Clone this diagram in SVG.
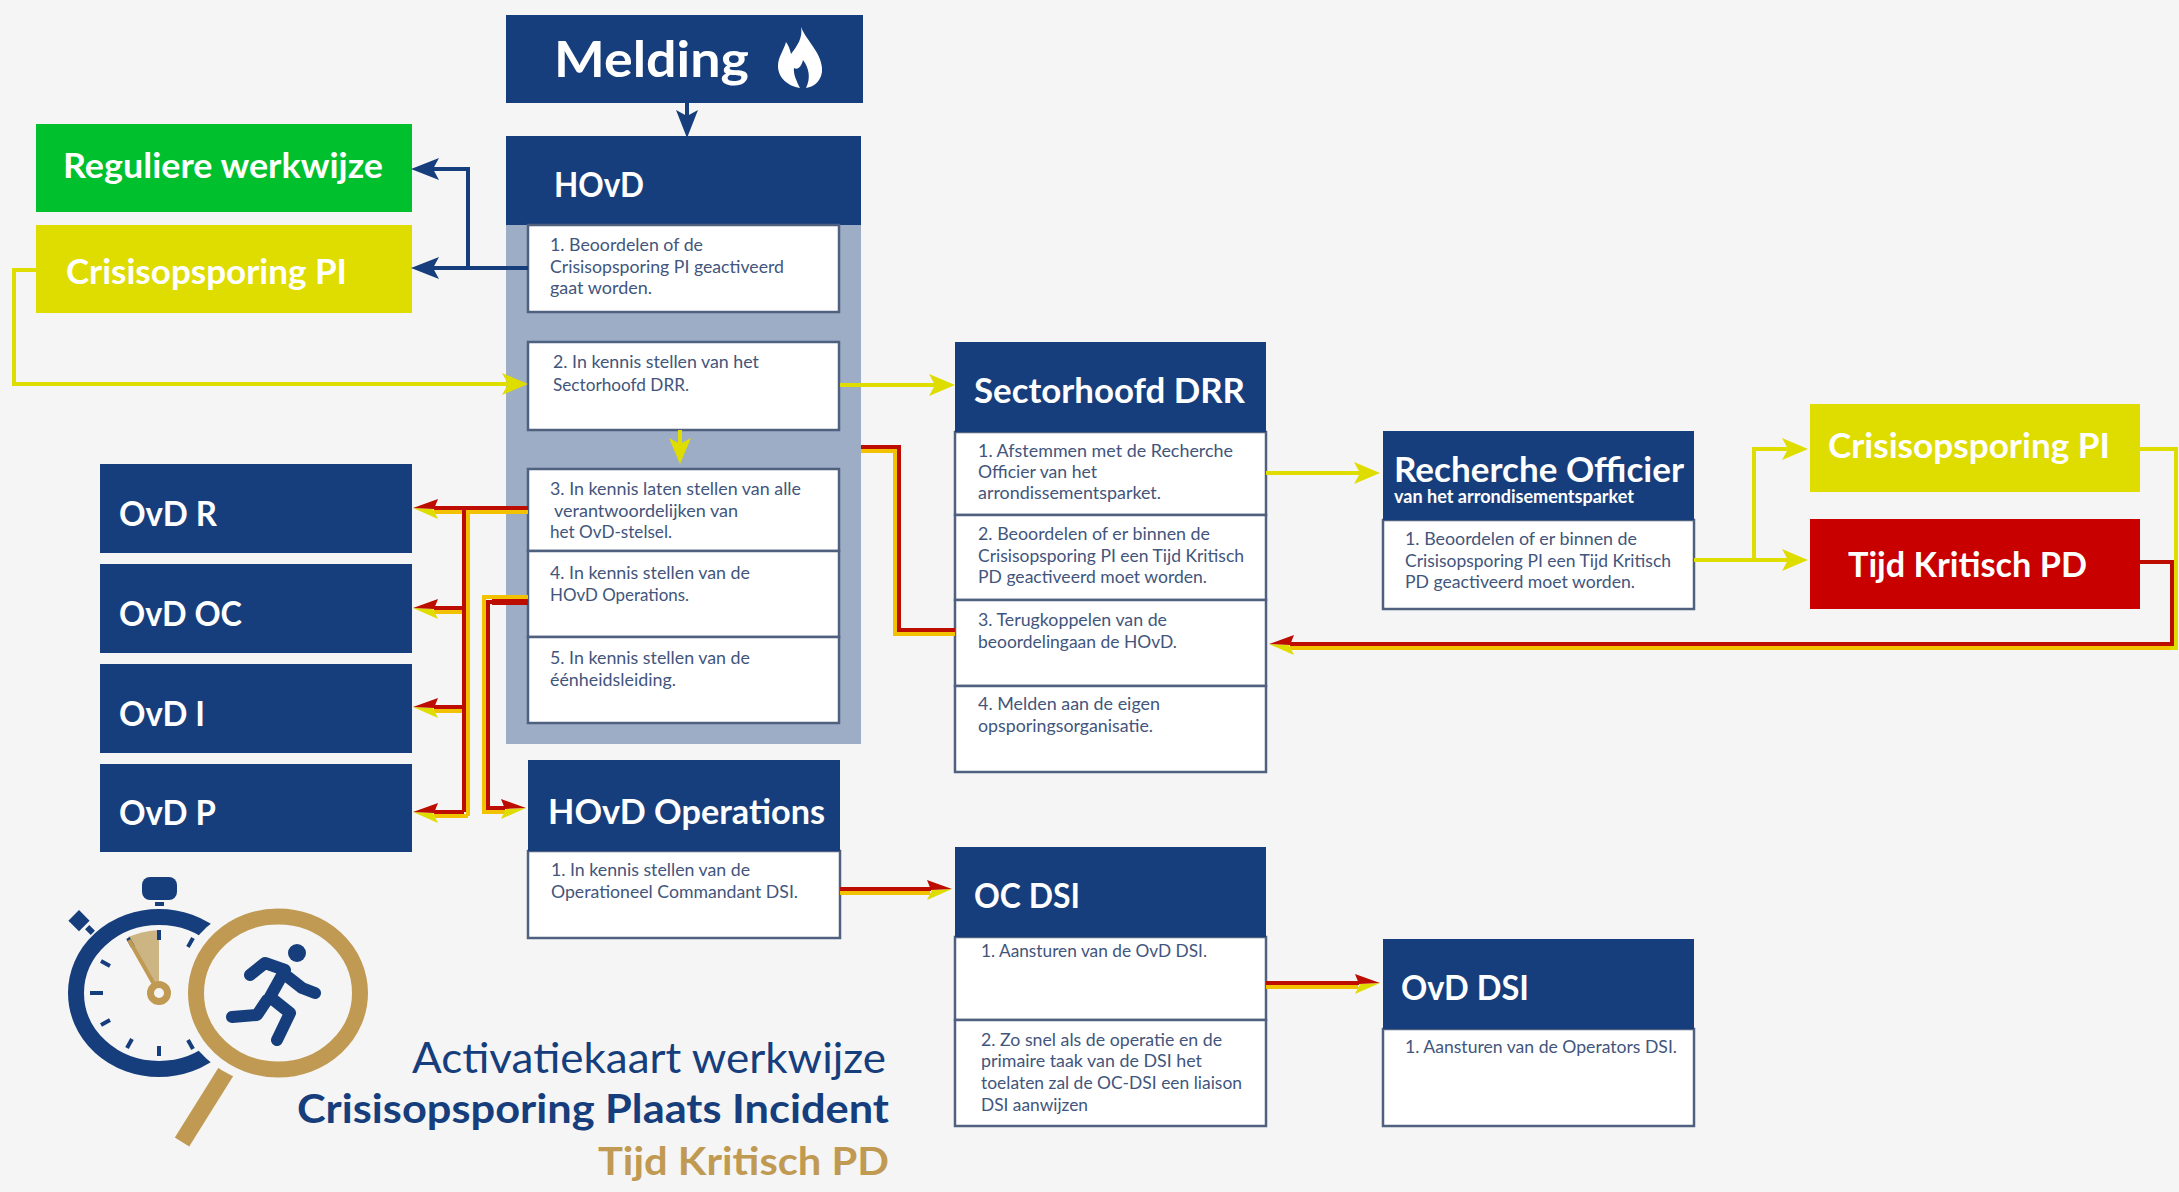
<svg xmlns="http://www.w3.org/2000/svg" width="2179" height="1192" viewBox="0 0 2179 1192">
<style>
text{font-family:"Lato","Open Sans",sans-serif}
.h{font-weight:700;fill:#fff;font-size:34px}
.b{fill:#42557c;font-size:17.5px}
.navy{fill:#173e7c}
.box{fill:#fff;stroke:#50617f;stroke-width:2.5}
.blue{fill:none;stroke:#173e7c;stroke-width:4}
.yl{fill:none;stroke:#dfdc00;stroke-width:4}
.yd{fill:none;stroke:#f2c200;stroke-width:4}
.rd{fill:none;stroke:#bd0c00;stroke-width:4}
.gold{stroke:#c09a52;fill:none}
.tick{stroke:#173e7c;stroke-width:4;stroke-linecap:butt}
.run{stroke:#173e7c;stroke-width:12;stroke-linecap:round;stroke-linejoin:round;fill:none}
</style>
<defs>
<marker id="ab" markerUnits="userSpaceOnUse" markerWidth="28" markerHeight="24" viewBox="0 0 28 24" refX="6" refY="12" orient="auto"><path d="M0 1L28 12L0 23L6 12Z" fill="#173e7c"/></marker>
<marker id="ay" markerUnits="userSpaceOnUse" markerWidth="26" markerHeight="24" viewBox="0 0 26 24" refX="6" refY="12" orient="auto"><path d="M0 1L26 12L0 23L6 12Z" fill="#dfdc00"/></marker>
<marker id="ar" markerUnits="userSpaceOnUse" markerWidth="28" markerHeight="24" viewBox="0 0 28 24" refX="7" refY="12" orient="auto"><path d="M3 23L28 12L8 13Z" fill="#dfdc00"/><path d="M3 3L28 12L7 13Z" fill="#bd0c00"/></marker>
<marker id="al" markerUnits="userSpaceOnUse" markerWidth="28" markerHeight="24" viewBox="0 0 28 24" refX="7" refY="12" orient="auto"><path d="M3 1L28 12L8 11Z" fill="#dfdc00"/><path d="M3 21L28 12L7 11Z" fill="#bd0c00"/></marker>
</defs>
<rect width="2179" height="1192" fill="#f5f5f5"/>

<g id="melding">
<rect class="navy" x="506" y="15" width="357" height="88"/>
<text class="h" style="font-size:50px" x="554" y="77" textLength="195" lengthAdjust="spacingAndGlyphs">Melding</text>
<path fill="#fff" d="M801 27C806 40 821 52 822 68C823 80 814 87 806 88C811 78 809 68 803 60C801 68 797 70 794 68C793 74 797 82 800 88C788 86 778 78 778 66C778 57 784 50 786 42C789 46 790 50 791 54C797 46 803 38 801 27Z"/>
</g>

<g id="hovd">
<rect fill="#9dadc5" x="506" y="225" width="355" height="519"/>
<rect class="navy" x="506" y="136" width="355" height="89"/>
<text class="h" x="554" y="197" textLength="90" lengthAdjust="spacingAndGlyphs">HOvD</text>
<rect class="box" x="528" y="225" width="311" height="87"/>
<rect class="box" x="528" y="342" width="311" height="88"/>
<rect class="box" x="528" y="469" width="311" height="82"/>
<rect class="box" x="528" y="551" width="311" height="86"/>
<rect class="box" x="528" y="637" width="311" height="86"/>
<text class="b" x="550" y="251" textLength="153" lengthAdjust="spacingAndGlyphs">1. Beoordelen of de</text>
<text class="b" x="550" y="273" textLength="234" lengthAdjust="spacingAndGlyphs">Crisisopsporing PI geactiveerd</text>
<text class="b" x="550" y="294" textLength="102" lengthAdjust="spacingAndGlyphs">gaat worden.</text>
<text class="b" x="553" y="368" textLength="206" lengthAdjust="spacingAndGlyphs">2. In kennis stellen van het</text>
<text class="b" x="553" y="391" textLength="136" lengthAdjust="spacingAndGlyphs">Sectorhoofd DRR.</text>
<text class="b" x="550" y="495" textLength="251" lengthAdjust="spacingAndGlyphs">3. In kennis laten stellen van alle</text>
<text class="b" x="554" y="517" textLength="184" lengthAdjust="spacingAndGlyphs">verantwoordelijken van</text>
<text class="b" x="550" y="538" textLength="122" lengthAdjust="spacingAndGlyphs">het OvD-stelsel.</text>
<text class="b" x="550" y="579" textLength="200" lengthAdjust="spacingAndGlyphs">4. In kennis stellen van de</text>
<text class="b" x="550" y="601" textLength="139" lengthAdjust="spacingAndGlyphs">HOvD Operations.</text>
<text class="b" x="550" y="664" textLength="200" lengthAdjust="spacingAndGlyphs">5. In kennis stellen van de</text>
<text class="b" x="550" y="686" textLength="126" lengthAdjust="spacingAndGlyphs">éénheidsleiding.</text>
</g>

<g id="reguliere-werkwijze">
<rect fill="#00c02e" x="36" y="124" width="376" height="88"/>
<text class="h" x="63" y="178" textLength="320" lengthAdjust="spacingAndGlyphs">Reguliere werkwijze</text>
</g>
<g id="crisisopsporing-left">
<rect fill="#dfdc00" x="36" y="225" width="376" height="88"/>
<text class="h" x="66" y="284" textLength="281" lengthAdjust="spacingAndGlyphs">Crisisopsporing PI</text>
</g>

<g id="ovd-r"><rect class="navy" x="100" y="464" width="312" height="89"/><text class="h" x="119" y="526" textLength="98" lengthAdjust="spacingAndGlyphs">OvD R</text></g>
<g id="ovd-oc"><rect class="navy" x="100" y="564" width="312" height="89"/><text class="h" x="119" y="626" textLength="123" lengthAdjust="spacingAndGlyphs">OvD OC</text></g>
<g id="ovd-i"><rect class="navy" x="100" y="664" width="312" height="89"/><text class="h" x="119" y="726" textLength="86" lengthAdjust="spacingAndGlyphs">OvD I</text></g>
<g id="ovd-p"><rect class="navy" x="100" y="764" width="312" height="88"/><text class="h" x="119" y="825" textLength="97" lengthAdjust="spacingAndGlyphs">OvD P</text></g>

<g id="hovd-operations">
<rect class="box" x="528" y="851" width="312" height="87"/>
<rect class="navy" x="528" y="760" width="312" height="91"/>
<text class="h" x="548" y="824" textLength="277" lengthAdjust="spacingAndGlyphs">HOvD Operations</text>
<text class="b" x="551" y="876" textLength="199" lengthAdjust="spacingAndGlyphs">1. In kennis stellen van de</text>
<text class="b" x="551" y="898" textLength="247" lengthAdjust="spacingAndGlyphs">Operationeel Commandant DSI.</text>
</g>

<g id="sectorhoofd-drr">
<rect class="box" x="955" y="432" width="311" height="83"/>
<rect class="box" x="955" y="515" width="311" height="85"/>
<rect class="box" x="955" y="600" width="311" height="86"/>
<rect class="box" x="955" y="686" width="311" height="86"/>
<rect class="navy" x="955" y="342" width="311" height="90"/>
<text class="h" x="974" y="403" textLength="271" lengthAdjust="spacingAndGlyphs">Sectorhoofd DRR</text>
<text class="b" x="978" y="457" textLength="255" lengthAdjust="spacingAndGlyphs">1. Afstemmen met de Recherche</text>
<text class="b" x="978" y="478" textLength="119" lengthAdjust="spacingAndGlyphs">Officier van het</text>
<text class="b" x="978" y="499" textLength="183" lengthAdjust="spacingAndGlyphs">arrondissementsparket.</text>
<text class="b" x="978" y="540" textLength="232" lengthAdjust="spacingAndGlyphs">2. Beoordelen of er binnen de</text>
<text class="b" x="978" y="562" textLength="266" lengthAdjust="spacingAndGlyphs">Crisisopsporing PI een Tijd Kritisch</text>
<text class="b" x="978" y="583" textLength="229" lengthAdjust="spacingAndGlyphs">PD geactiveerd moet worden.</text>
<text class="b" x="978" y="626" textLength="189" lengthAdjust="spacingAndGlyphs">3. Terugkoppelen van de</text>
<text class="b" x="978" y="648" textLength="199" lengthAdjust="spacingAndGlyphs">beoordelingaan de HOvD.</text>
<text class="b" x="978" y="710" textLength="182" lengthAdjust="spacingAndGlyphs">4. Melden aan de eigen</text>
<text class="b" x="978" y="732" textLength="175" lengthAdjust="spacingAndGlyphs">opsporingsorganisatie.</text>
</g>

<g id="recherche-officier">
<rect class="box" x="1383" y="520" width="311" height="89"/>
<rect class="navy" x="1383" y="431" width="311" height="89"/>
<text class="h" x="1394" y="482" textLength="290" lengthAdjust="spacingAndGlyphs">Recherche Officier</text>
<text class="h" style="font-size:18px" x="1394" y="503" textLength="240" lengthAdjust="spacingAndGlyphs">van het arrondisementsparket</text>
<text class="b" x="1405" y="545" textLength="232" lengthAdjust="spacingAndGlyphs">1. Beoordelen of er binnen de</text>
<text class="b" x="1405" y="567" textLength="266" lengthAdjust="spacingAndGlyphs">Crisisopsporing PI een Tijd Kritisch</text>
<text class="b" x="1405" y="588" textLength="230" lengthAdjust="spacingAndGlyphs">PD geactiveerd moet worden.</text>
</g>

<g id="crisisopsporing-right">
<rect fill="#dfdc00" x="1810" y="404" width="330" height="88"/>
<text class="h" x="1828" y="458" textLength="282" lengthAdjust="spacingAndGlyphs">Crisisopsporing PI</text>
</g>
<g id="tijd-kritisch">
<rect fill="#c80000" x="1810" y="519" width="330" height="90"/>
<text class="h" x="1848" y="577" textLength="239" lengthAdjust="spacingAndGlyphs">Tijd Kritisch PD</text>
</g>

<g id="oc-dsi">
<rect class="box" x="955" y="937" width="311" height="83"/>
<rect class="box" x="955" y="1020" width="311" height="106"/>
<rect class="navy" x="955" y="847" width="311" height="90"/>
<text class="h" x="974" y="908" textLength="106" lengthAdjust="spacingAndGlyphs">OC DSI</text>
<text class="b" x="981" y="957" textLength="226" lengthAdjust="spacingAndGlyphs">1. Aansturen van de OvD DSI.</text>
<text class="b" x="981" y="1046" textLength="241" lengthAdjust="spacingAndGlyphs">2. Zo snel als de operatie en de</text>
<text class="b" x="981" y="1067" textLength="221" lengthAdjust="spacingAndGlyphs">primaire taak van de DSI het</text>
<text class="b" x="981" y="1089" textLength="261" lengthAdjust="spacingAndGlyphs">toelaten zal de OC-DSI een liaison</text>
<text class="b" x="981" y="1111" textLength="107" lengthAdjust="spacingAndGlyphs">DSI aanwijzen</text>
</g>

<g id="ovd-dsi">
<rect class="box" x="1383" y="1029" width="311" height="97"/>
<rect class="navy" x="1383" y="939" width="311" height="90"/>
<text class="h" x="1401" y="1000" textLength="128" lengthAdjust="spacingAndGlyphs">OvD DSI</text>
<text class="b" x="1405" y="1053" textLength="272" lengthAdjust="spacingAndGlyphs">1. Aansturen van de Operators DSI.</text>
</g>

<g id="logo">
<ellipse cx="159" cy="993" rx="83" ry="76" fill="none" stroke="#173e7c" stroke-width="16"/>
<rect class="navy" x="142" y="877" width="35" height="23" rx="8"/>
<rect class="navy" x="155" y="902" width="9" height="4"/>
<rect class="navy" x="72" y="913" width="15" height="15" transform="rotate(45 79 920)"/>
<rect class="navy" x="86" y="927" width="8" height="6" transform="rotate(45 90 930)"/>
<path fill="#cdb483" d="M159 993L128 937Q143 931 159 930Z"/>
<path class="tick" d="M159 930V940M193 938L188 947M193 1049L188 1040M159 1056V1046M127 1048L132 1039M101 1025L110 1020M90 993H103M101 961L110 966M128 938L133 947"/>
<path class="gold" stroke-width="4" d="M159 993L129 940"/>
<circle class="gold" cx="159" cy="993" r="8.5" stroke-width="7" style="fill:#f5f5f5"/>
<path class="gold" stroke-width="17" d="M227 1070L182 1142"/>
<ellipse cx="278" cy="993" rx="101" ry="93" fill="#f5f5f5"/>
<ellipse class="gold" cx="278" cy="993" rx="82" ry="76.5" stroke-width="16"/>
<circle cx="297" cy="953" r="9" fill="#173e7c"/>
<path class="run" d="M250 975L265 963L285 970L270 997L290 1013L277 1040M288 977L302 988L315 993M267 1000L257 1015L232 1017"/>
</g>

<g id="title">
<text x="412" y="1073" style="font-size:42px" fill="#173e7c" textLength="474" lengthAdjust="spacingAndGlyphs">Activatiekaart werkwijze</text>
<text x="297" y="1123" style="font-size:40px;font-weight:700" fill="#173e7c" textLength="592" lengthAdjust="spacingAndGlyphs">Crisisopsporing Plaats Incident</text>
<text x="598" y="1175" style="font-size:39px;font-weight:700" fill="#c09a52" textLength="291" lengthAdjust="spacingAndGlyphs">Tijd Kritisch PD</text>
</g>

<g id="connectors">
<path class="blue" d="M687 103V116" marker-end="url(#ab)"/>
<path class="blue" d="M528 268H433" marker-end="url(#ab)"/>
<path class="blue" d="M468 268V169H433" marker-end="url(#ab)"/>
<path class="yl" d="M36 270H14V384H508" marker-end="url(#ay)"/>
<path class="yl" d="M840 385H935" marker-end="url(#ay)"/>
<path class="yl" d="M1266 473H1360" marker-end="url(#ay)"/>
<path class="yl" d="M1694 560H1788" marker-end="url(#ay)"/>
<path class="yl" d="M1754 560V449H1788" marker-end="url(#ay)"/>
<path class="yl" d="M680 430V444" marker-end="url(#ay)"/>

<path class="yd" d="M528 512H434M468 512V816M468 612H434M468 711H434M468 816H434"/>
<path class="rd" d="M528 508H434" marker-end="url(#al)"/>
<path class="rd" d="M464 508V812"/>
<path class="rd" d="M464 608H434" marker-end="url(#al)"/>
<path class="rd" d="M464 707H434" marker-end="url(#al)"/>
<path class="rd" d="M464 812H434" marker-end="url(#al)"/>

<path class="yd" d="M528 597H484V812H505"/>
<path class="rd" d="M528 602H488V808H505" marker-end="url(#ar)"/>
<path class="rd" style="stroke-width:6" d="M528 602H492"/>

<path class="yd" d="M861 451H895V634H955"/>
<path class="rd" d="M861 447H899V630H955"/>

<path class="yd" d="M840 893H930"/>
<path class="rd" d="M840 889H931" marker-end="url(#ar)"/>
<path class="yd" d="M1266 987H1358"/>
<path class="rd" d="M1266 983H1359" marker-end="url(#ar)"/>

<path class="yl" d="M2140 449H2176V648H1290"/>
<path class="yd" d="M1290 648H2170"/>
<path class="rd" d="M2140 562H2172V644H1290" marker-end="url(#al)"/>
</g>
</svg>
